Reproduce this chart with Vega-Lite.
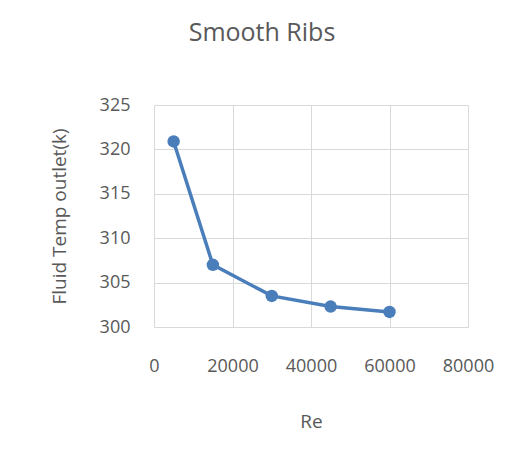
{
  "$schema": "https://vega.github.io/schema/vega-lite/v6.json",
  "autosize": "none",
  "width": 314,
  "height": 222,
  "padding": {"top": 105, "left": 154, "right": 53, "bottom": 137},
  "background": "white",
  "config": {
    "font": "Open Sans",
    "view": {"stroke": null},
    "axis": {"labelColor": "#595959", "titleColor": "#595959", "gridColor": "#d9d9d9", "gridWidth": 1, "domain": false, "ticks": false, "titleFontWeight": "normal", "labelFont": "Open Sans", "titleFont": "Open Sans", "labelFlush": false, "labelOverlap": false, "labelBound": false}
  },
  "title": {"text": "Smooth Ribs", "fontSize": 25, "fontWeight": "normal", "color": "#595959", "font": "Open Sans", "anchor": "middle", "dx": -49, "offset": 50},
  "data": {"values": [
    {"Re": 5000, "T": 320.9},
    {"Re": 15000, "T": 307.0},
    {"Re": 30000, "T": 303.5},
    {"Re": 45000, "T": 302.3},
    {"Re": 60000, "T": 301.7}
  ]},
  "encoding": {
    "x": {"field": "Re", "type": "quantitative", "scale": {"domain": [0, 80000], "nice": false}, "axis": {"values": [0, 20000, 40000, 60000, 80000], "format": "d", "title": "Re", "labelFontSize": 18, "labelPadding": 30, "titleFontSize": 19, "titlePadding": 37}},
    "y": {"field": "T", "type": "quantitative", "scale": {"domain": [300, 325], "nice": false, "zero": false}, "axis": {"values": [300, 305, 310, 315, 320, 325], "title": "Fluid Temp outlet(k)", "labelFontSize": 18, "labelPadding": 24, "titleFontSize": 19, "titlePadding": 30}}
  },
  "layer": [
    {"mark": {"type": "line", "color": "#4a7ebb", "strokeWidth": 3.5}},
    {"mark": {"type": "point", "filled": true, "opacity": 1, "color": "#4a7ebb", "size": 155}}
  ]
}
